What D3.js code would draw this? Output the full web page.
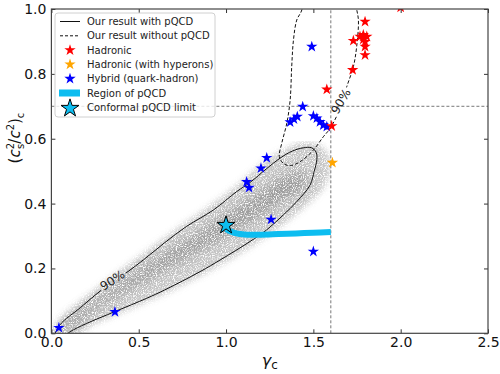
<!DOCTYPE html>
<html lang="en">
  <head>
    <meta charset="UTF-8" />
    <title>sound speed vs gamma</title>
    <script src="https://cdn.jsdelivr.net/npm/d3@7"></script>
    <style>
      body { margin: 0; background: #fff; }
      text { font-family: "DejaVu Sans", sans-serif; }
    </style>
  </head>
  <body>
    <svg width="500" height="374"></svg>
  </body>
  <script>
    // star markers: [gamma_c, (cs^2/c^2)_c]
    var hadronic = [[1.605, 0.639], [1.577, 0.752], [1.725, 0.812], [1.796, 0.858], [1.796, 0.884],
      [1.729, 0.902], [1.767, 0.915], [1.786, 0.92], [1.806, 0.915], [1.796, 0.899],
      [1.786, 0.906], [1.796, 0.961], [2.0, 1.005]];
    var hyperons = [[1.609, 0.526]];
    var hybrid = [[0.043, 0.017], [0.364, 0.066], [1.118, 0.467], [1.132, 0.449], [1.2, 0.509],
      [1.233, 0.541], [1.258, 0.351], [1.5, 0.252], [1.367, 0.651], [1.389, 0.66],
      [1.408, 0.668], [1.439, 0.699], [1.5, 0.67], [1.52, 0.663], [1.538, 0.652],
      [1.557, 0.642], [1.577, 0.637], [1.491, 0.884]];
    var conformal = [[1.0, 0.333]];

    // pQCD band
    var pqcdBand = [[1.0, 0.322], [1.03, 0.313], [1.07, 0.307], [1.12, 0.304], [1.2, 0.304],
      [1.3, 0.306], [1.4, 0.308], [1.5, 0.31], [1.6, 0.312]];

    // 90% contours
    var withPqcd = [[0.02, -0.01], [0.049, 0.026], [0.168, 0.08], [0.288, 0.134], [0.42, 0.183],
      [0.526, 0.226], [0.65, 0.28], [0.775, 0.33], [0.927, 0.38], [1.061, 0.437], [1.137, 0.465],
      [1.233, 0.508], [1.309, 0.54], [1.38, 0.562], [1.443, 0.572], [1.49, 0.572], [1.516, 0.558],
      [1.52, 0.535], [1.505, 0.5], [1.481, 0.457], [1.405, 0.406], [1.328, 0.365], [1.233, 0.319],
      [1.137, 0.283], [0.966, 0.226], [0.851, 0.19], [0.65, 0.134], [0.546, 0.108], [0.364, 0.067],
      [0.2, 0.03], [0.107, 0.005], [0.07, -0.01]];
    var withoutPqcd = [[1.44, 1.05], [1.434, 0.997], [1.405, 0.966], [1.386, 0.904], [1.376, 0.822],
      [1.367, 0.719], [1.348, 0.648], [1.319, 0.586], [1.305, 0.545], [1.328, 0.524], [1.367, 0.517],
      [1.424, 0.529], [1.5, 0.565], [1.557, 0.606], [1.596, 0.632], [1.65, 0.69], [1.691, 0.76],
      [1.729, 0.822], [1.748, 0.884], [1.758, 0.966], [1.748, 1.0], [1.74, 1.05]];

    // outline of the grey sample cloud (outer haze, dense core)
    var cloudOuter = [[0.0, 0.0], [0.03, 0.03], [0.15, 0.09], [0.3, 0.155], [0.5, 0.235], [0.7, 0.315],
      [0.9, 0.39], [1.05, 0.45], [1.2, 0.52], [1.33, 0.565], [1.45, 0.59], [1.55, 0.575], [1.6, 0.52],
      [1.56, 0.45], [1.45, 0.39], [1.3, 0.325], [1.15, 0.27], [0.95, 0.205], [0.7, 0.135],
      [0.45, 0.075], [0.25, 0.03], [0.12, -0.01]];
    var cloudCore = [[0.06, 0.025], [0.3, 0.12], [0.6, 0.23], [0.9, 0.33], [1.15, 0.42], [1.35, 0.49],
      [1.45, 0.5], [1.45, 0.45], [1.3, 0.4], [1.1, 0.33], [0.9, 0.27], [0.6, 0.18], [0.3, 0.09],
      [0.08, 0.01]];

    var xTicks = [0.0, 0.5, 1.0, 1.5, 2.0, 2.5];
    var yTicks = [0.0, 0.2, 0.4, 0.6, 0.8, 1.0];
    var gammaLine = 1.6;
    var csLine = 0.7;

    var legendItems = [
      { label: "Our result with pQCD", kind: "line" },
      { label: "Our result without pQCD", kind: "dash" },
      { label: "Hadronic", kind: "star", color: "#ff0000" },
      { label: "Hadronic (with hyperons)", kind: "star", color: "#ffa500" },
      { label: "Hybrid (quark-hadron)", kind: "star", color: "#0000ff" },
      { label: "Region of pQCD", kind: "band" },
      { label: "Conformal pQCD limit", kind: "bigstar" }
    ];

    var svg = d3.select("svg");
    var pL = 51.4, pR = 488, pT = 9, pB = 333.3;
    var cyan = "#0dbdf0";

    var xScale = d3.scaleLinear().domain([0, 2.5]).range([pL, pR]);
    var yScale = d3.scaleLinear().domain([0, 1]).range([pB, pT]);

    var defs = svg.append("defs");
    defs.append("clipPath").attr("id", "plot")
      .append("rect").attr("x", pL).attr("y", pT)
      .attr("width", pR - pL).attr("height", pB - pT);

    var soft = defs.append("filter").attr("id", "soft").attr("x", "-20%").attr("y", "-20%")
      .attr("width", "140%").attr("height", "140%");
    soft.append("feGaussianBlur").attr("stdDeviation", 3);
    var softer = defs.append("filter").attr("id", "softer").attr("x", "-20%").attr("y", "-20%")
      .attr("width", "140%").attr("height", "140%");
    softer.append("feGaussianBlur").attr("stdDeviation", 6);

    var grain = defs.append("filter").attr("id", "grain").attr("x", 0).attr("y", 0)
      .attr("width", 1).attr("height", 1);
    grain.append("feTurbulence").attr("type", "fractalNoise").attr("baseFrequency", 0.9)
      .attr("numOctaves", 2).attr("seed", 4).attr("result", "noise");
    grain.append("feColorMatrix").attr("in", "noise").attr("type", "matrix")
      .attr("values", "0 0 0 0 0  0 0 0 0 0  0 0 0 0 0  3.5 0 0 0 -0.9").attr("result", "na");
    grain.append("feComposite").attr("in", "SourceGraphic").attr("in2", "na").attr("operator", "in");

    // label gaps in the contour lines
    function labelMask(id, pt, angle) {
      var m = defs.append("mask").attr("id", id).attr("maskUnits", "userSpaceOnUse")
        .attr("x", 0).attr("y", 0).attr("width", 500).attr("height", 374);
      m.append("rect").attr("x", 0).attr("y", 0).attr("width", 500).attr("height", 374).attr("fill", "#fff");
      m.append("rect").attr("x", -15).attr("y", -6).attr("width", 30).attr("height", 12)
        .attr("fill", "#000")
        .attr("transform", "translate(" + xScale(pt[0]) + "," + yScale(pt[1]) + ") rotate(" + angle + ")");
    }
    var solidLabel = [0.35, 0.163], dashLabel = [1.658, 0.715];
    labelMask("gapSolid", solidLabel, -33);
    labelMask("gapDash", dashLabel, -60);

    var smooth = d3.line().x((d) => xScale(d[0])).y((d) => yScale(d[1])).curve(d3.curveCatmullRom);
    var smoothClosed = d3.line().x((d) => xScale(d[0])).y((d) => yScale(d[1])).curve(d3.curveCatmullRomClosed);

    var plot = svg.append("g").attr("clip-path", "url(#plot)");

    // grey cloud
    var cloud = plot.append("g").attr("filter", "url(#grain)");
    cloud.append("path").attr("d", smoothClosed(cloudOuter))
      .attr("fill", "#b8b8b8").attr("opacity", 0.8).attr("filter", "url(#soft)");
    cloud.append("path").attr("d", smoothClosed(cloudCore))
      .attr("fill", "#8c8c8c").attr("opacity", 0.75).attr("filter", "url(#softer)");

    // reference lines
    plot.append("line")
      .attr("x1", xScale(gammaLine)).attr("x2", xScale(gammaLine))
      .attr("y1", yScale(0)).attr("y2", yScale(1))
      .attr("stroke", "#777").attr("stroke-width", 1).attr("stroke-dasharray", "3,2");
    plot.append("line")
      .attr("x1", xScale(0)).attr("x2", xScale(2.5))
      .attr("y1", yScale(csLine)).attr("y2", yScale(csLine))
      .attr("stroke", "#777").attr("stroke-width", 1).attr("stroke-dasharray", "3,2");

    // contours
    plot.append("path").attr("d", smoothClosed(withPqcd))
      .attr("fill", "none").attr("stroke", "#111").attr("stroke-width", 1)
      .attr("mask", "url(#gapSolid)");
    plot.append("path").attr("d", smooth(withoutPqcd))
      .attr("fill", "none").attr("stroke", "#111").attr("stroke-width", 1)
      .attr("stroke-dasharray", "3.5,2").attr("mask", "url(#gapDash)");

    function contourLabel(pt, angle) {
      plot.append("text")
        .attr("transform", "translate(" + xScale(pt[0]) + "," + yScale(pt[1]) + ") rotate(" + angle + ")")
        .attr("text-anchor", "middle").attr("dominant-baseline", "central")
        .attr("font-size", 12).attr("fill", "#222").text("90%");
    }
    contourLabel(solidLabel, -33);
    contourLabel(dashLabel, -60);

    // pQCD region
    plot.append("path").attr("d", smooth(pqcdBand))
      .attr("fill", "none").attr("stroke", cyan).attr("stroke-width", 6);

    // stars
    var star = d3.symbol().type(d3.symbolStar);
    function stars(data, color, size, edge) {
      plot.selectAll(null).data(data).enter().append("path")
        .attr("d", star.size(size)())
        .attr("transform", (d) => "translate(" + xScale(d[0]) + "," + yScale(d[1]) + ")")
        .attr("fill", color)
        .attr("stroke", edge || "none").attr("stroke-width", edge ? 1 : 0);
    }
    stars(hybrid, "#0000ff", 40);
    stars(hadronic, "#ff0000", 40);
    stars(hyperons, "#ffa500", 40);
    stars(conformal, cyan, 100, "#000");

    // frame and ticks
    var axisFont = function (g) {
      g.select(".domain").remove();
      g.selectAll(".tick line").attr("stroke", "#333");
      g.selectAll("text").attr("font-size", 14).attr("fill", "#111")
        .style("font-family", "DejaVu Sans, sans-serif");
    };
    svg.append("g").attr("transform", "translate(0," + pB + ")")
      .call(d3.axisBottom(xScale).tickValues(xTicks).tickFormat(d3.format(".1f"))
        .tickSizeInner(-4).tickSizeOuter(0).tickPadding(4))
      .call(axisFont);
    svg.append("g").attr("transform", "translate(" + pL + ",0)")
      .call(d3.axisLeft(yScale).tickValues(yTicks).tickFormat(d3.format(".1f"))
        .tickSizeInner(-4).tickSizeOuter(0).tickPadding(5))
      .call(axisFont);
    svg.append("g").attr("transform", "translate(0," + pT + ")")
      .call(d3.axisTop(xScale).tickValues(xTicks).tickFormat("").tickSizeInner(-4).tickSizeOuter(0))
      .call(axisFont);
    svg.append("g").attr("transform", "translate(" + pR + ",0)")
      .call(d3.axisRight(yScale).tickValues(yTicks).tickFormat("").tickSizeInner(-4).tickSizeOuter(0))
      .call(axisFont);
    svg.append("rect").attr("x", pL).attr("y", pT)
      .attr("width", pR - pL).attr("height", pB - pT)
      .attr("fill", "none").attr("stroke", "#444").attr("stroke-width", 1.2);

    // axis titles
    var xl = svg.append("text").attr("x", xScale(1.25)).attr("y", 366)
      .attr("text-anchor", "middle").attr("font-size", 16).attr("fill", "#111");
    xl.append("tspan").attr("font-style", "italic").text("γ");
    xl.append("tspan").attr("font-size", 12).attr("dy", 3).text("c");

    var yl = svg.append("text").attr("transform", "translate(20,138) rotate(-90)")
      .attr("text-anchor", "middle").attr("font-size", 15).attr("fill", "#111");
    yl.append("tspan").text("(");
    yl.append("tspan").attr("font-style", "italic").text("c");
    yl.append("tspan").attr("font-size", 10).attr("dy", -6).text("2");
    yl.append("tspan").attr("font-size", 10).attr("dx", -6).attr("dy", 10).text("s");
    yl.append("tspan").attr("dy", -4).text("/");
    yl.append("tspan").attr("font-style", "italic").text("c");
    yl.append("tspan").attr("font-size", 10).attr("dy", -6).text("2");
    yl.append("tspan").attr("dy", 6).text(")");
    yl.append("tspan").attr("font-size", 10).attr("dy", 4).text("c");

    // legend
    var lg = svg.append("g");
    lg.append("rect").attr("x", 55).attr("y", 13).attr("width", 160).attr("height", 104)
      .attr("rx", 3).attr("fill", "#fff").attr("fill-opacity", 0.8)
      .attr("stroke", "#d0d0d0").attr("stroke-width", 1);
    var rows = lg.selectAll("g.row").data(legendItems).enter().append("g")
      .attr("transform", (d, i) => "translate(0," + (21.5 + i * 14.3) + ")");
    rows.each(function (d) {
      var r = d3.select(this);
      if (d.kind === "line" || d.kind === "dash") {
        r.append("line").attr("x1", 60).attr("x2", 80).attr("y1", 0).attr("y2", 0)
          .attr("stroke", "#111").attr("stroke-width", 1)
          .attr("stroke-dasharray", d.kind === "dash" ? "3,2" : null);
      } else if (d.kind === "star") {
        r.append("path").attr("d", star.size(40)()).attr("transform", "translate(70,0)")
          .attr("fill", d.color);
      } else if (d.kind === "band") {
        r.append("rect").attr("x", 59).attr("y", -3.5).attr("width", 21).attr("height", 7).attr("fill", cyan);
      } else {
        r.append("path").attr("d", star.size(100)()).attr("transform", "translate(70,1)")
          .attr("fill", cyan).attr("stroke", "#000").attr("stroke-width", 1);
      }
      r.append("text").attr("x", 87).attr("y", 0).attr("dominant-baseline", "central")
        .attr("font-size", 10).attr("fill", "#222").text(d.label);
    });
  </script>
</html>
